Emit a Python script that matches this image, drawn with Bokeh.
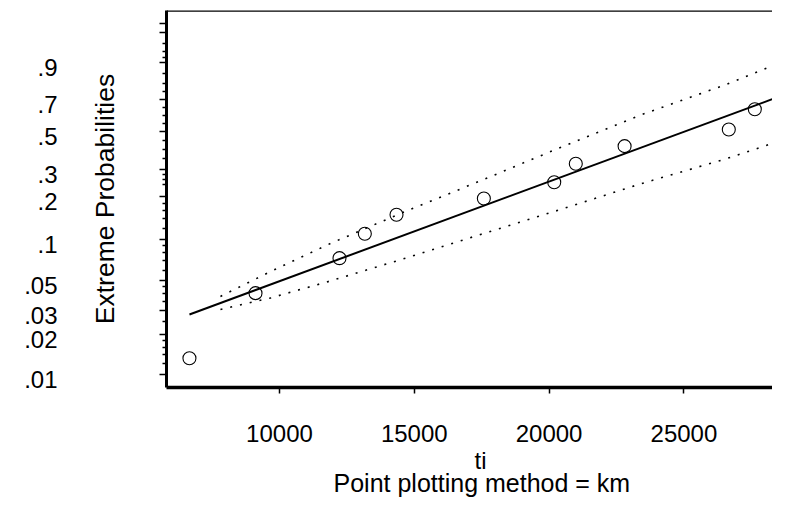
import numpy as np
from bokeh.plotting import figure
from bokeh.models import (LinearAxis, FixedTicker, Range1d, Span, Title,
                          CustomJSTickFormatter)
from bokeh.embed import file_html
from bokeh.resources import INLINE

# ---- data ----
ti_km = [6660, 9110, 12225, 13165, 14340, 17580, 20190, 20990, 22800, 26665, 27630]
prob = [0.0132, 0.0405, 0.0733, 0.110, 0.150, 0.194, 0.249, 0.327, 0.416, 0.513, 0.641]

fit_x = [6660, 28275]
fit_p = [0.0281, 0.705]

band_x = [7810, 9670, 11890, 14490, 17455, 20420, 23390, 26560, 28160]
upper_p = [0.0383, 0.0585, 0.0937, 0.153, 0.2545, 0.4086, 0.6035, 0.793, 0.882]
lower_p = [0.0306, 0.0373, 0.0499, 0.0714, 0.1087, 0.163, 0.243, 0.350, 0.425]

x_ticks = [10000, 15000, 20000, 25000]
y_label_p = [0.01, 0.02, 0.03, 0.05, 0.1, 0.2, 0.3, 0.5, 0.7, 0.9]
y_label_txt = [".01", ".02", ".03", ".05", ".1", ".2", ".3", ".5", ".7", ".9"]
y_major_p = y_label_p + [0.98, 0.99]
y_minor_p = [0.012, 0.014, 0.016, 0.018, 0.025, 0.035, 0.04, 0.045,
             0.06, 0.07, 0.08, 0.09, 0.12, 0.14, 0.16, 0.18, 0.24, 0.26, 0.28,
             0.35, 0.4, 0.45, 0.55, 0.6, 0.65, 0.75, 0.8, 0.85, 0.92, 0.94, 0.96]


def ev(p):
    """extreme-value probability scale: log(-log(1-p))"""
    return list(np.log(-np.log(1.0 - np.asarray(p, dtype=float))))


FONT = "Liberation Sans"
PX = 57.3                      # pixels per unit of the probability scale
Y1 = 1.747
Y0 = Y1 - 377 / PX
X0, X1 = 5809, 28286

p = figure(width=772, height=498, x_range=Range1d(X0, X1), y_range=Range1d(Y0, Y1),
           x_axis_type=None, y_axis_type=None, output_backend="svg",
           toolbar_location=None, min_border_left=166, min_border_right=0,
           min_border_top=10, min_border_bottom=111)
p.outline_line_color = None
p.background_fill_color = "white"
p.border_fill_color = "white"

# inner left axis: spine, ticks and title
ya = LinearAxis(ticker=FixedTicker(ticks=ev(y_major_p), minor_ticks=ev(y_minor_p)),
                axis_line_width=3, axis_line_color="black",
                major_tick_out=7, major_tick_in=0, major_tick_line_width=1.5,
                minor_tick_out=4, minor_tick_in=0, minor_tick_line_width=1.5,
                major_label_text_font_size="1px", major_label_text_alpha=0,
                major_label_standoff=0,
                axis_label="Extreme Probabilities", axis_label_text_font=FONT,
                axis_label_text_font_size="26.5px", axis_label_text_font_style="normal",
                axis_label_text_color="black", axis_label_standoff=40)
p.add_layout(ya, "left")

# outer left axis: only the tick labels (slightly below their ticks)
d = 5.0 / PX
p.extra_y_ranges = {"lab": Range1d(Y0 + d, Y1 + d)}
fmt = CustomJSTickFormatter(args=dict(t=ev(y_label_p), l=y_label_txt), code="""
let best = 0, bd = Infinity;
for (let i = 0; i < t.length; i++) { const dd = Math.abs(t[i] - tick); if (dd < bd) { bd = dd; best = i; } }
return l[best];
""")
yb = LinearAxis(y_range_name="lab", ticker=FixedTicker(ticks=ev(y_label_p), minor_ticks=[]),
                formatter=fmt, axis_line_color=None, major_tick_line_color=None,
                minor_tick_line_color=None, major_tick_out=0, major_tick_in=0,
                minor_tick_out=0, minor_tick_in=0, major_label_standoff=29,
                major_label_text_font=FONT, major_label_text_font_size="24px",
                major_label_text_color="black")
p.add_layout(yb, "left")

# bottom axis
xa = LinearAxis(ticker=FixedTicker(ticks=x_ticks, minor_ticks=[]),
                axis_line_width=3.5, axis_line_color="black",
                major_tick_out=6, major_tick_in=0, major_tick_line_width=1.5,
                major_label_standoff=31, major_label_text_font=FONT,
                major_label_text_font_size="24px", major_label_text_color="black")
p.add_layout(xa, "below")

# bottom titles
p.add_layout(Title(text="ti", align="left", offset=308, standoff=0,
                   text_font=FONT, text_font_size="24px", text_font_style="normal",
                   text_color="black"), "below")
p.add_layout(Title(text="Point plotting method = km", align="left", offset=167,
                   standoff=-13, text_font=FONT, text_font_size="25px",
                   text_font_style="normal", text_color="black"), "below")

# top border line
p.add_layout(Span(location=Y1, dimension="width", line_color="black", line_width=2.5))

# bands, fit and points
p.line(band_x, ev(upper_p), line_color="black", line_width=1.6, line_dash="2 8")
p.line(band_x, ev(lower_p), line_color="black", line_width=1.6, line_dash="2 8")
p.line(fit_x, ev(fit_p), line_color="black", line_width=2)
p.scatter(ti_km, ev(prob), marker="circle", size=13, fill_color=None,
          line_color="black", line_width=1.1)

open("out.html", "w").write(file_html(p, INLINE))
